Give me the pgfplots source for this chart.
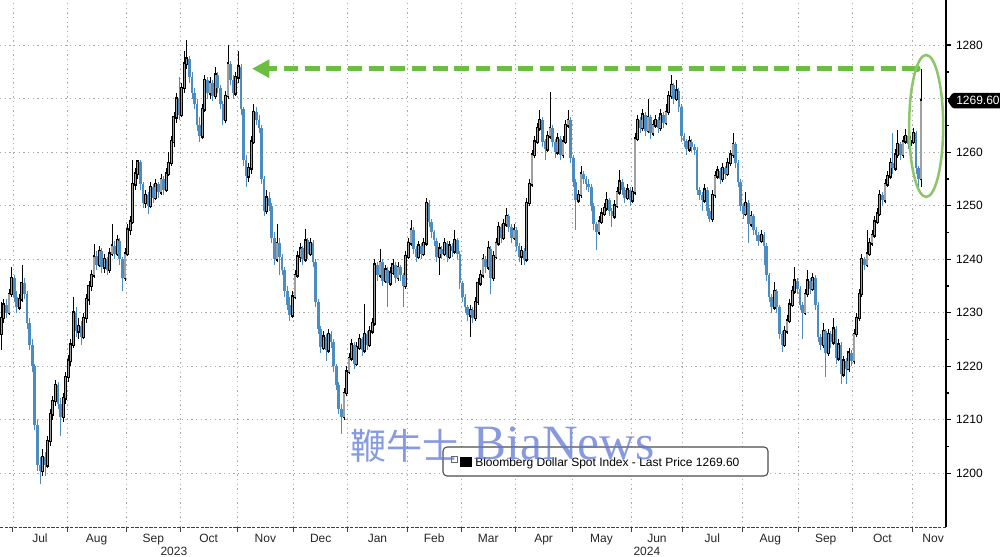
\documentclass[border=0pt]{standalone}
\usepackage{pgfplots}
\pgfplotsset{compat=1.18}
\usepackage{pgfplotstable}
\usetikzlibrary{arrows.meta}
\usepackage{fontspec}
\setmainfont{Liberation Sans}
\newfontfamily\cjk{Noto Sans CJK SC}
\newfontfamily\wmserif{Liberation Serif}
\definecolor{downblue}{RGB}{75,140,195}
\definecolor{upgray}{RGB}{160,160,160}
\definecolor{arrowgreen}{RGB}{106,190,64}
\definecolor{ellgreen}{RGB}{140,198,105}
\definecolor{wmblue}{RGB}{95,120,215}
\newcommand{\mlab}[2]{\node[anchor=base, yshift=-11.25pt, font=\fontsize{9}{10}\selectfont, text=black!85] at (axis cs:#1,1189.91) {#2};}
\pgfplotsset{candle/.style={draw=none, mark=none, forget plot}}

\pgfplotstableread{
i o h l c
0 1226.0 1232.0 1223.0 1229.0
1 1229.0 1232.5 1228.0 1231.5
2 1231.5 1232.5 1229.0 1230.0
3 1230.0 1234.5 1229.5 1233.5
4 1233.5 1238.5 1233.0 1236.5
5 1236.5 1237.0 1232.0 1233.0
6 1233.0 1234.0 1230.0 1231.0
7 1231.0 1233.5 1230.5 1232.5
8 1232.5 1238.9 1232.0 1235.5
9 1235.5 1236.5 1232.5 1233.5
10 1233.5 1234.0 1227.0 1228.0
11 1228.0 1229.0 1223.0 1224.0
12 1224.0 1225.0 1219.0 1220.0
13 1220.0 1220.5 1208.0 1209.0
14 1209.0 1210.0 1200.5 1201.5
15 1201.5 1203.0 1198.0 1200.5
16 1200.5 1204.5 1199.5 1203.0
17 1203.0 1204.0 1199.5 1201.5
18 1201.5 1207.0 1201.0 1206.0
19 1206.0 1212.0 1205.0 1211.0
20 1211.0 1214.5 1210.0 1213.5
21 1213.5 1217.5 1212.5 1216.5
22 1216.5 1217.0 1212.0 1213.0
23 1213.0 1214.0 1207.0 1210.5
24 1210.5 1215.0 1209.5 1214.0
25 1214.0 1219.0 1213.0 1218.0
26 1218.0 1222.0 1217.0 1221.0
27 1221.0 1225.0 1220.0 1224.0
28 1224.0 1233.0 1223.5 1230.0
29 1230.0 1231.0 1225.5 1226.5
30 1226.5 1229.0 1225.0 1227.5
31 1227.5 1228.5 1224.0 1225.5
32 1225.5 1230.0 1225.0 1229.0
33 1229.0 1233.5 1228.0 1232.5
34 1232.5 1236.0 1231.5 1235.0
35 1235.0 1238.0 1234.0 1237.0
36 1237.0 1242.9 1236.5 1240.5
37 1240.5 1241.5 1238.0 1239.0
38 1239.0 1242.5 1238.5 1241.5
39 1241.5 1242.0 1237.5 1238.5
40 1238.5 1241.0 1237.5 1240.0
41 1240.0 1240.5 1237.0 1238.0
42 1238.0 1242.0 1237.5 1241.0
43 1241.0 1246.6 1240.5 1242.5
44 1242.5 1243.5 1240.0 1241.0
45 1241.0 1244.5 1240.5 1243.5
46 1243.5 1244.0 1239.0 1240.0
47 1240.0 1240.5 1234.0 1236.5
48 1236.5 1242.0 1236.0 1241.0
49 1241.0 1246.5 1240.5 1245.5
50 1245.5 1248.0 1244.5 1247.0
51 1247.0 1258.5 1246.5 1254.0
52 1254.0 1257.0 1253.0 1256.0
53 1256.0 1258.5 1255.0 1258.2
54 1258.2 1258.5 1253.0 1254.0
55 1254.0 1254.5 1249.5 1250.5
56 1250.5 1253.0 1249.5 1252.0
57 1252.0 1252.5 1248.5 1250.0
58 1250.0 1254.5 1249.5 1253.5
59 1253.5 1254.0 1250.5 1251.5
60 1251.5 1255.0 1251.0 1254.0
61 1254.0 1254.5 1251.5 1252.5
62 1252.5 1256.0 1252.0 1255.0
63 1255.0 1255.5 1252.0 1253.0
64 1253.0 1257.0 1252.5 1256.0
65 1256.0 1260.0 1255.5 1258.0
66 1258.0 1263.0 1257.5 1262.0
67 1262.0 1267.5 1261.0 1266.5
68 1266.5 1271.0 1265.5 1270.0
69 1270.0 1274.0 1266.0 1267.0
70 1267.0 1273.0 1266.5 1272.0
71 1272.0 1279.0 1271.0 1276.5
72 1276.5 1281.0 1275.5 1277.5
73 1277.5 1278.0 1273.0 1274.0
74 1274.0 1275.0 1270.0 1271.0
75 1271.0 1272.0 1268.0 1269.0
76 1269.0 1270.0 1264.0 1265.0
77 1265.0 1266.5 1262.0 1263.0
78 1263.0 1269.0 1262.5 1268.0
79 1268.0 1274.5 1267.5 1273.5
80 1273.5 1274.0 1270.0 1271.0
81 1271.0 1274.0 1270.0 1273.0
82 1273.0 1273.5 1269.5 1270.5
83 1270.5 1276.0 1270.0 1274.5
84 1274.5 1275.0 1271.0 1272.0
85 1272.0 1272.5 1268.0 1269.0
86 1269.0 1269.5 1265.0 1266.0
87 1266.0 1271.5 1265.5 1270.5
88 1270.5 1280.0 1270.0 1276.5
89 1276.5 1277.0 1272.5 1273.5
90 1273.5 1274.5 1270.0 1271.0
91 1271.0 1275.0 1270.5 1274.0
92 1274.0 1279.0 1273.0 1276.0
93 1276.0 1276.5 1267.0 1268.0
94 1268.0 1268.5 1257.5 1258.5
95 1258.5 1259.5 1253.5 1255.5
96 1255.5 1258.0 1254.5 1257.0
97 1257.0 1263.0 1256.0 1262.0
98 1262.0 1269.0 1261.5 1267.5
99 1267.5 1268.5 1265.0 1266.0
100 1266.0 1267.0 1263.5 1264.5
101 1264.5 1265.0 1254.0 1255.0
102 1255.0 1255.5 1248.0 1249.0
103 1249.0 1253.0 1248.5 1251.5
104 1251.5 1252.5 1249.0 1250.0
105 1250.0 1250.5 1243.0 1244.0
106 1244.0 1245.0 1239.0 1240.0
107 1240.0 1246.6 1239.5 1243.0
108 1243.0 1244.0 1237.0 1240.5
109 1240.5 1241.0 1237.0 1238.0
110 1238.0 1238.5 1233.0 1234.0
111 1234.0 1235.0 1230.5 1231.5
112 1231.5 1233.0 1228.5 1229.5
113 1229.5 1234.0 1229.0 1233.0
114 1233.0 1238.0 1232.5 1237.0
115 1237.0 1241.5 1236.5 1240.5
116 1240.5 1243.0 1239.5 1242.0
117 1242.0 1242.5 1239.0 1240.0
118 1240.0 1245.7 1239.5 1243.5
119 1243.5 1244.0 1240.0 1241.0
120 1241.0 1244.0 1240.5 1243.0
121 1243.0 1243.5 1238.5 1239.5
122 1239.5 1240.0 1231.0 1232.0
123 1232.0 1232.5 1226.0 1227.0
124 1227.0 1227.5 1222.5 1223.5
125 1223.5 1226.5 1223.0 1225.5
126 1225.5 1226.0 1221.0 1223.0
127 1223.0 1227.0 1222.5 1226.0
128 1226.0 1226.5 1223.5 1224.5
129 1224.5 1225.0 1219.0 1220.0
130 1220.0 1220.5 1215.5 1216.5
131 1216.5 1217.0 1211.0 1212.0
132 1212.0 1213.0 1207.4 1210.5
133 1210.5 1216.0 1210.0 1215.0
134 1215.0 1220.0 1214.5 1219.0
135 1219.0 1222.5 1218.5 1221.5
136 1221.5 1225.0 1221.0 1224.0
137 1224.0 1224.5 1219.5 1220.5
138 1220.5 1224.5 1220.0 1223.5
139 1223.5 1226.0 1223.0 1225.0
140 1225.0 1225.5 1222.0 1223.0
141 1223.0 1231.7 1222.5 1226.0
142 1226.0 1226.5 1223.0 1224.0
143 1224.0 1227.5 1223.5 1226.5
144 1226.5 1229.0 1226.0 1228.0
145 1228.0 1240.0 1227.5 1239.0
146 1239.0 1239.5 1236.0 1237.0
147 1237.0 1242.0 1236.5 1239.5
148 1239.5 1240.0 1235.0 1236.0
149 1236.0 1239.0 1235.5 1238.0
150 1238.0 1238.5 1231.0 1235.5
151 1235.5 1238.5 1235.0 1237.5
152 1237.5 1240.0 1237.0 1239.0
153 1239.0 1239.5 1235.5 1236.5
154 1236.5 1239.5 1236.0 1238.5
155 1238.5 1239.0 1236.0 1237.0
156 1237.0 1237.5 1231.0 1235.0
157 1235.0 1241.5 1234.5 1240.5
158 1240.5 1244.0 1240.0 1243.0
159 1243.0 1247.3 1242.5 1245.5
160 1245.5 1246.0 1241.0 1242.0
161 1242.0 1242.5 1239.5 1240.5
162 1240.5 1243.5 1240.0 1242.5
163 1242.5 1243.0 1240.0 1241.0
164 1241.0 1244.0 1240.5 1243.0
165 1243.0 1251.5 1242.5 1250.5
166 1250.5 1251.0 1246.0 1247.0
167 1247.0 1247.5 1244.0 1245.0
168 1245.0 1245.5 1242.5 1243.5
169 1243.5 1244.0 1239.5 1240.5
170 1240.5 1243.0 1237.0 1242.0
171 1242.0 1242.5 1240.0 1241.0
172 1241.0 1244.0 1240.5 1243.0
173 1243.0 1243.5 1239.5 1240.5
174 1240.5 1243.5 1240.0 1242.5
175 1242.5 1243.0 1240.5 1241.5
176 1241.5 1245.5 1241.0 1243.5
177 1243.5 1244.0 1240.0 1241.0
178 1241.0 1241.5 1234.5 1235.5
179 1235.5 1236.0 1232.0 1233.0
180 1233.0 1233.5 1230.0 1231.0
181 1231.0 1231.5 1228.5 1229.5
182 1229.5 1231.5 1225.5 1230.5
183 1230.5 1231.0 1228.0 1229.0
184 1229.0 1233.0 1228.5 1232.0
185 1232.0 1236.5 1231.5 1235.5
186 1235.5 1238.0 1235.0 1237.0
187 1237.0 1241.0 1236.5 1240.0
188 1240.0 1240.5 1237.5 1238.5
189 1238.5 1243.5 1238.0 1242.0
190 1242.0 1242.5 1233.5 1236.5
191 1236.5 1241.5 1236.0 1240.5
192 1240.5 1244.0 1240.0 1243.0
193 1243.0 1247.0 1242.5 1246.0
194 1246.0 1246.5 1243.0 1244.0
195 1244.0 1247.5 1243.5 1246.5
196 1246.5 1249.5 1246.0 1248.0
197 1248.0 1248.5 1245.0 1246.0
198 1246.0 1246.5 1243.0 1244.0
199 1244.0 1246.5 1243.5 1245.5
200 1245.5 1246.0 1241.5 1242.5
201 1242.5 1243.0 1239.5 1240.5
202 1240.5 1242.5 1239.0 1241.5
203 1241.5 1242.0 1239.0 1240.0
204 1240.0 1251.5 1239.5 1250.5
205 1250.5 1255.0 1250.0 1254.0
206 1254.0 1260.5 1253.5 1259.5
207 1259.5 1263.0 1259.0 1262.0
208 1262.0 1265.5 1261.5 1264.5
209 1264.5 1267.8 1264.0 1266.0
210 1266.0 1266.5 1261.0 1262.0
211 1262.0 1262.5 1258.5 1260.5
212 1260.5 1264.0 1260.0 1263.0
213 1263.0 1271.3 1262.5 1264.5
214 1264.5 1265.0 1261.0 1262.0
215 1262.0 1262.5 1259.0 1260.0
216 1260.0 1263.5 1259.5 1262.5
217 1262.5 1263.0 1258.5 1259.5
218 1259.5 1263.0 1259.0 1262.0
219 1262.0 1266.0 1261.5 1265.0
220 1265.0 1267.8 1264.5 1266.0
221 1266.0 1266.5 1258.0 1259.0
222 1259.0 1259.5 1253.5 1254.5
223 1254.5 1255.0 1245.4 1251.0
224 1251.0 1253.0 1250.5 1252.0
225 1252.0 1257.5 1251.5 1256.0
226 1256.0 1256.5 1254.0 1255.0
227 1255.0 1255.5 1253.0 1254.0
228 1254.0 1255.0 1252.5 1253.5
229 1253.5 1254.0 1249.0 1250.0
230 1250.0 1250.5 1245.5 1246.5
231 1246.5 1247.0 1241.7 1245.0
232 1245.0 1248.0 1244.5 1247.0
233 1247.0 1249.5 1246.5 1248.5
234 1248.5 1250.5 1248.0 1249.5
235 1249.5 1252.5 1249.0 1251.0
236 1251.0 1251.5 1248.0 1249.0
237 1249.0 1249.5 1246.0 1248.0
238 1248.0 1251.0 1247.5 1250.0
239 1250.0 1253.5 1249.5 1252.5
240 1252.5 1256.6 1252.0 1254.5
241 1254.5 1255.0 1252.0 1253.0
242 1253.0 1253.5 1250.5 1251.5
243 1251.5 1254.0 1251.0 1253.0
244 1253.0 1253.5 1250.0 1251.0
245 1251.0 1253.5 1250.5 1252.5
246 1252.5 1263.5 1252.0 1262.5
247 1262.5 1267.0 1262.0 1266.0
248 1266.0 1266.5 1263.5 1264.5
249 1264.5 1268.0 1264.0 1267.0
250 1267.0 1267.5 1263.0 1264.0
251 1264.0 1270.0 1263.5 1266.5
252 1266.5 1267.0 1262.5 1263.5
253 1263.5 1266.0 1263.0 1265.0
254 1265.0 1267.0 1264.5 1266.0
255 1266.0 1266.5 1263.5 1264.5
256 1264.5 1268.0 1264.0 1267.0
257 1267.0 1267.5 1264.5 1265.5
258 1265.5 1269.0 1265.0 1267.5
259 1267.5 1271.5 1267.0 1270.5
260 1270.5 1274.4 1270.0 1272.5
261 1272.5 1273.0 1269.0 1270.0
262 1270.0 1273.5 1269.5 1271.5
263 1271.5 1272.0 1267.5 1268.5
264 1268.5 1269.0 1262.0 1263.0
265 1263.0 1263.5 1261.0 1262.0
266 1262.0 1262.5 1259.5 1260.5
267 1260.5 1263.0 1260.0 1262.0
268 1262.0 1262.5 1260.0 1261.0
269 1261.0 1261.5 1259.5 1260.5
270 1260.5 1261.0 1252.0 1253.0
271 1253.0 1253.5 1251.0 1252.0
272 1252.0 1252.5 1249.0 1251.0
273 1251.0 1254.0 1250.5 1253.0
274 1253.0 1253.5 1248.0 1249.0
275 1249.0 1249.5 1247.0 1247.5
276 1247.5 1253.0 1247.0 1252.0
277 1252.0 1256.5 1251.5 1255.5
278 1255.5 1257.5 1255.0 1256.5
279 1256.5 1257.0 1254.0 1255.0
280 1255.0 1258.0 1254.5 1257.0
281 1257.0 1257.5 1255.0 1256.0
282 1256.0 1259.0 1255.5 1258.0
283 1258.0 1260.5 1257.5 1259.5
284 1259.5 1263.5 1259.0 1261.5
285 1261.5 1262.0 1257.0 1258.0
286 1258.0 1258.5 1253.5 1254.5
287 1254.5 1255.0 1249.0 1250.0
288 1250.0 1250.5 1247.5 1248.5
289 1248.5 1252.5 1248.0 1250.5
290 1250.5 1251.0 1243.0 1246.5
291 1246.5 1249.0 1246.0 1248.0
292 1248.0 1248.5 1244.5 1245.5
293 1245.5 1246.0 1243.5 1244.5
294 1244.5 1245.0 1242.5 1243.5
295 1243.5 1245.4 1243.0 1244.5
296 1244.5 1245.0 1239.0 1242.5
297 1242.5 1243.0 1236.0 1237.0
298 1237.0 1237.5 1232.0 1233.0
299 1233.0 1233.5 1230.0 1231.0
300 1231.0 1235.8 1230.5 1234.0
301 1234.0 1234.5 1230.0 1231.0
302 1231.0 1231.5 1225.0 1226.0
303 1226.0 1226.5 1222.6 1224.0
304 1224.0 1227.5 1223.5 1226.5
305 1226.5 1229.5 1226.0 1228.5
306 1228.5 1232.5 1228.0 1231.5
307 1231.5 1235.0 1231.0 1234.0
308 1234.0 1238.5 1233.5 1236.0
309 1236.0 1236.5 1233.5 1234.5
310 1234.5 1235.0 1230.5 1231.5
311 1231.5 1232.0 1225.0 1230.0
312 1230.0 1234.5 1229.5 1233.5
313 1233.5 1238.0 1233.0 1236.0
314 1236.0 1236.5 1233.5 1234.5
315 1234.5 1237.5 1234.0 1236.5
316 1236.5 1237.0 1230.5 1231.5
317 1231.5 1232.0 1224.5 1225.5
318 1225.5 1226.0 1223.0 1224.0
319 1224.0 1228.0 1223.5 1226.5
320 1226.5 1227.0 1218.0 1222.5
321 1222.5 1227.0 1222.0 1226.0
322 1226.0 1226.5 1223.5 1224.5
323 1224.5 1229.0 1224.0 1227.0
324 1227.0 1227.5 1220.5 1221.5
325 1221.5 1225.0 1221.0 1224.0
326 1224.0 1224.5 1216.7 1218.5
327 1218.5 1222.0 1218.0 1221.0
328 1221.0 1221.5 1216.7 1219.5
329 1219.5 1223.5 1219.0 1222.5
330 1222.5 1223.0 1220.0 1221.0
331 1221.0 1227.0 1220.5 1226.0
332 1226.0 1230.0 1225.5 1229.0
333 1229.0 1234.5 1228.5 1233.5
334 1233.5 1241.0 1233.0 1240.0
335 1240.0 1240.5 1238.0 1239.0
336 1239.0 1245.4 1238.5 1241.0
337 1241.0 1244.0 1240.5 1243.0
338 1243.0 1245.5 1242.5 1244.5
339 1244.5 1248.0 1244.0 1247.0
340 1247.0 1249.5 1246.5 1248.5
341 1248.5 1253.0 1248.0 1252.0
342 1252.0 1252.5 1250.0 1251.0
343 1251.0 1255.0 1250.5 1254.0
344 1254.0 1256.5 1253.5 1255.5
345 1255.5 1259.0 1255.0 1258.0
346 1258.0 1263.5 1256.0 1257.0
347 1257.0 1260.5 1256.5 1259.5
348 1259.5 1264.1 1259.0 1261.5
349 1261.5 1262.0 1258.5 1259.5
350 1259.5 1263.0 1259.0 1262.0
351 1262.0 1264.4 1261.5 1263.0
352 1263.0 1263.5 1260.5 1261.5
353 1261.5 1263.0 1261.0 1262.0
354 1262.0 1264.5 1261.5 1263.5
355 1263.5 1264.0 1256.0 1257.0
356 1257.0 1257.5 1253.5 1255.0
357 1255.0 1275.6 1253.5 1269.6
}\candles

\begin{document}
\begin{tikzpicture}
\begin{axis}[
  at={(0pt,22.5pt)}, anchor=south west,
  scale only axis, width=709.5pt, height=395.25pt,
  xmin=-0.5, xmax=366.7, ymin=1189.91, ymax=1288.41,
  axis x line*=bottom, axis y line*=right,
  x axis line style={-, black!75, line width=0.6pt, dash pattern=on 2.5pt off 1pt},
  y axis line style={-, black, line width=0.8pt},
  xtick={4.5,25.5,48.5,69.5,91.5,113.5,134.5,157.5,178.5,199.5,221.5,244.5,264.5,287.5,309.5,330.5,353.5},
  xticklabels={},
  xtick pos=left, ytick pos=right, yticklabel pos=right,
  ytick={1200,1210,1220,1230,1240,1250,1260,1270,1280},
  yticklabels={1200,1210,1220,1230,1240,1250,1260,,1280},
  minor y tick num=1,
  tick align=outside,
  major tick length=4pt, minor tick length=2.5pt,
  xtick style={black!75, line width=0.6pt},
  ytick style={black, line width=1.0pt},
  grid=major,
  grid style={gray!65, line width=0.5pt, dash pattern=on 1pt off 2.5pt},
  yticklabel style={font=\fontsize{9}{10}\selectfont, text=black},
  /pgf/number format/assume math mode=true,
  /pgf/number format/1000 sep={},
  clip=false,
  unbounded coords=discard,
]
% up candles: wicks
\addplot[candle,
  x filter/.expression={\thisrow{c}>=\thisrow{o} ? x : nan},
  error bars/.cd, y dir=both, y explicit, error mark=none,
  error bar style={draw=black, line width=0.55pt}]
  table[x=i, y expr={(\thisrow{h}+\thisrow{l})/2}, y error expr={(\thisrow{h}-\thisrow{l})/2}] {\candles};
% up candles: body outline
\addplot[candle,
  x filter/.expression={\thisrow{c}>=\thisrow{o} ? x : nan},
  error bars/.cd, y dir=both, y explicit, error mark=none,
  error bar style={draw=black, line width=2.1pt, line cap=rect}]
  table[x=i, y expr={(\thisrow{o}+\thisrow{c})/2}, y error expr={abs(\thisrow{c}-\thisrow{o})/2}] {\candles};
% up candles: body fill
\addplot[candle,
  x filter/.expression={\thisrow{c}>=\thisrow{o} ? x : nan},
  error bars/.cd, y dir=both, y explicit, error mark=none,
  error bar style={draw=upgray, line width=0.9pt}]
  table[x=i, y expr={(\thisrow{o}+\thisrow{c})/2}, y error expr={abs(\thisrow{c}-\thisrow{o})/2}] {\candles};
% down candles: wicks
\addplot[candle,
  x filter/.expression={\thisrow{c}<\thisrow{o} ? x : nan},
  error bars/.cd, y dir=both, y explicit, error mark=none,
  error bar style={draw=downblue, line width=0.55pt}]
  table[x=i, y expr={(\thisrow{h}+\thisrow{l})/2}, y error expr={(\thisrow{h}-\thisrow{l})/2}] {\candles};
% down candles: body
\addplot[candle,
  x filter/.expression={\thisrow{c}<\thisrow{o} ? x : nan},
  error bars/.cd, y dir=both, y explicit, error mark=none,
  error bar style={draw=downblue, line width=2.0pt}]
  table[x=i, y expr={(\thisrow{o}+\thisrow{c})/2}, y error expr={abs(\thisrow{c}-\thisrow{o})/2}] {\candles};

% annotations
\draw[arrowgreen, line width=3.5pt, dash pattern=on 11pt off 5pt, -{Triangle[length=13pt,width=13pt]}]
  (axis cs:355.5,1275.6) -- (axis cs:97.3,1275.6);
\fill[arrowgreen] (axis cs:355.5,1275.6) circle[radius=2.6pt];
\draw[ellgreen, line width=1.9pt] (axis cs:359.0,1264.9) ellipse[x radius=12.75pt, y radius=53.25pt];

% month labels
\mlab{15}{Jul}\mlab{37}{Aug}\mlab{59}{Sep}\mlab{80.5}{Oct}\mlab{102.5}{Nov}\mlab{124}{Dec}
\mlab{146}{Jan}\mlab{168}{Feb}\mlab{189}{Mar}\mlab{210.5}{Apr}\mlab{233}{May}\mlab{254.5}{Jun}
\mlab{276}{Jul}\mlab{298.5}{Aug}\mlab{320}{Sep}\mlab{342}{Oct}\mlab{361.7}{Nov}
\node[anchor=base, yshift=-21.6pt, font=\fontsize{9}{10}\selectfont, text=black!85] at (axis cs:67,1189.91) {2023};
\node[anchor=base, yshift=-21.6pt, font=\fontsize{9}{10}\selectfont, text=black!85] at (axis cs:250.6,1189.91) {2024};
\draw[black!70, line width=0.6pt] (axis cs:134.5,1189.91) ++(0,-12pt) -- ++(0,-11pt);
\coordinate (T) at (axis cs:366.7,1269.6);
\end{axis}

% last price tag
\fill[black, rounded corners=1pt] ([xshift=1pt]T) -- ([xshift=5pt,yshift=5.8pt]T) -- ([xshift=45pt,yshift=5.8pt]T) -- ([xshift=45pt,yshift=-5.8pt]T) -- ([xshift=5pt,yshift=-5.8pt]T) -- cycle;
\node[anchor=west, inner sep=0pt, text=white, font=\fontsize{9}{10}\selectfont] at ([xshift=7.5pt]T) {1269.60};

% legend box
\draw[rounded corners=3pt, fill=white, draw=black!70, line width=0.8pt] (332.25pt,60.75pt) rectangle (576pt,82.5pt);
\draw[black!60, line width=0.4pt] (338.25pt,71.25pt) rectangle (342.75pt,75.75pt);
\fill[black] (345pt,67.5pt) rectangle (354pt,75pt);
\node[anchor=base west, inner sep=0pt, font=\fontsize{9}{10}\selectfont] at (356.25pt,67.5pt) {Bloomberg Dollar Spot Index - Last Price 1269.60};

% watermark (on top)
\node[anchor=base west, inner sep=0pt, text=wmblue, opacity=0.75, font=\cjk\fontsize{27}{27}\selectfont] at (262.5pt,73pt) {鞭牛士};
\node[anchor=base west, inner sep=0pt, text=wmblue, opacity=0.75, font=\wmserif\fontsize{37}{37}\selectfont] at (355pt,73pt) {BiaNews};

\pgfresetboundingbox
\useasboundingbox (0,0) rectangle (750pt,417.75pt);
\end{tikzpicture}
\end{document}
